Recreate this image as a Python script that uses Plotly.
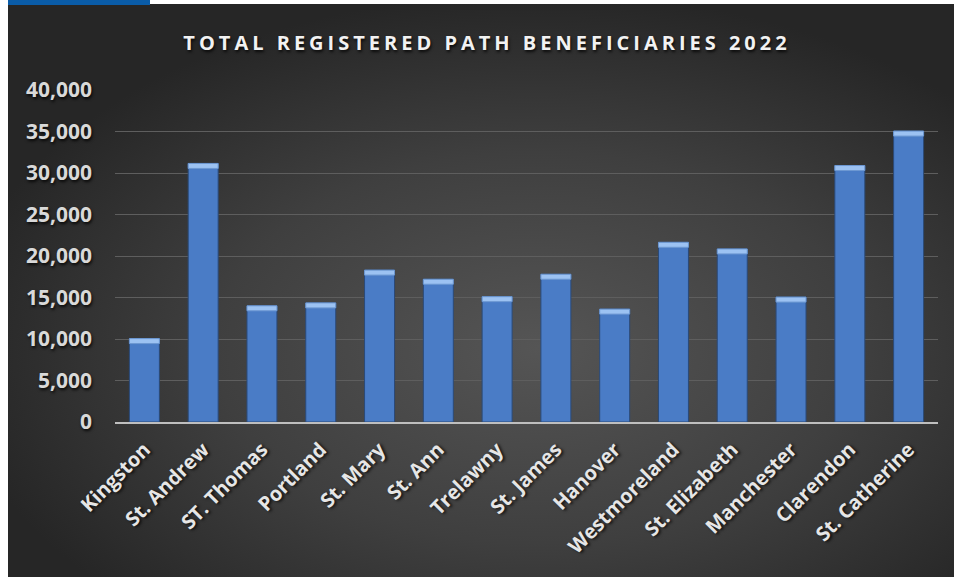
import base64
import plotly.graph_objects as go

parishes = ["Kingston", "St. Andrew", "ST. Thomas", "Portland", "St. Mary", "St. Ann",
            "Trelawny", "St. James", "Hanover", "Westmoreland", "St. Elizabeth",
            "Manchester", "Clarendon", "St. Catherine"]
beneficiaries = [10050, 31150, 14000, 14350, 18300, 17200, 15100, 17800, 13600,
                 21650, 20850, 15050, 30900, 35050]
y_ticks = [0, 5000, 10000, 15000, 20000, 25000, 30000, 35000, 40000]
title_text = "TOTAL REGISTERED PATH BENEFICIARIES 2022"

W, H = 954, 577
ML, MR, MT, MB = 115, 16, 90, 155
pw, ph = W - ML - MR, H - MT - MB

svg = """<svg xmlns='http://www.w3.org/2000/svg' width='946' height='573' viewBox='0 0 946 573' preserveAspectRatio='none'>
<defs><radialGradient id='g' cx='0.56' cy='0.6' r='0.62' gradientUnits='objectBoundingBox'>
<stop offset='0' stop-color='#555555'/><stop offset='0.55' stop-color='#3f3f3f'/><stop offset='1' stop-color='#262626'/>
</radialGradient></defs><rect width='946' height='573' fill='url(#g)'/></svg>"""
src = "data:image/svg+xml;base64," + base64.b64encode(svg.encode()).decode()

fig = go.Figure()
fig.add_trace(go.Bar(
    x=parishes, y=beneficiaries,
    marker=dict(color="#4a7cc6", line=dict(color="#2b4a78", width=1)),
    hoverinfo="x+y",
))
# top bevel highlight
fig.add_trace(go.Bar(
    x=parishes, y=[600] * len(beneficiaries),
    base=[v - 600 for v in beneficiaries],
    marker=dict(color="#9cc2f2", line=dict(color="#6d98d2", width=1)),
    hoverinfo="skip",
))

shadow = "1px 2px 3px rgba(0,0,0,0.8)"
fig.update_layout(
    width=W, height=H,
    margin=dict(l=ML, r=MR, t=MT, b=MB),
    paper_bgcolor="white",
    plot_bgcolor="rgba(0,0,0,0)",
    barmode="overlay",
    bargap=0.49,
    showlegend=False,
    title=dict(text=title_text, x=(487 - ML) / pw, xref="paper", xanchor="center",
               y=1 - 43 / H, yanchor="middle",
               font=dict(family="Open Sans", size=20, color="#f2f2f2", weight="bold",
                         shadow=shadow)),
    font=dict(family="Open Sans", color="#d9d9d9"),
    images=[dict(source=src, xref="paper", yref="paper",
                 x=(8 - ML) / pw, y=(MT + ph - 4) / ph, sizex=(W - 8) / pw, sizey=(H - 4) / ph,
                 xanchor="left", yanchor="top", sizing="stretch", layer="below")],
    shapes=[dict(type="rect", xref="paper", yref="paper",
                 x0=(8 - ML) / pw, x1=(150 - ML) / pw,
                 y0=(MT + ph - 5) / ph, y1=(MT + ph) / ph,
                 fillcolor="#0a5ca8", line=dict(width=0), layer="above")],
)
fig.update_xaxes(
    tickangle=-45,
    tickfont=dict(family="Open Sans", size=20, color="#e6e6e6", weight="bold", shadow=shadow),
    showline=True, linecolor="#bfbfbf", linewidth=2, ticks="", showgrid=False,
    ticklabelstandoff=6,
)
fig.update_yaxes(
    range=[0, 40000], tickvals=y_ticks, tickformat=",d",
    tickfont=dict(family="Open Sans", size=21, color="#d9d9d9", weight="bold", shadow=shadow),
    showgrid=True, gridcolor="#5e5e5e", gridwidth=1, zeroline=False,
    ticks="", ticklabelstandoff=22,
)

post = """
document.body.style.margin = '0';
document.body.style.overflow = 'hidden';
var t = document.querySelectorAll('.gtitle');
t.forEach(function(e){ e.style.letterSpacing = '4px'; });
"""
fig.write_html("out.html", post_script=post, config={"displayModeBar": False})
